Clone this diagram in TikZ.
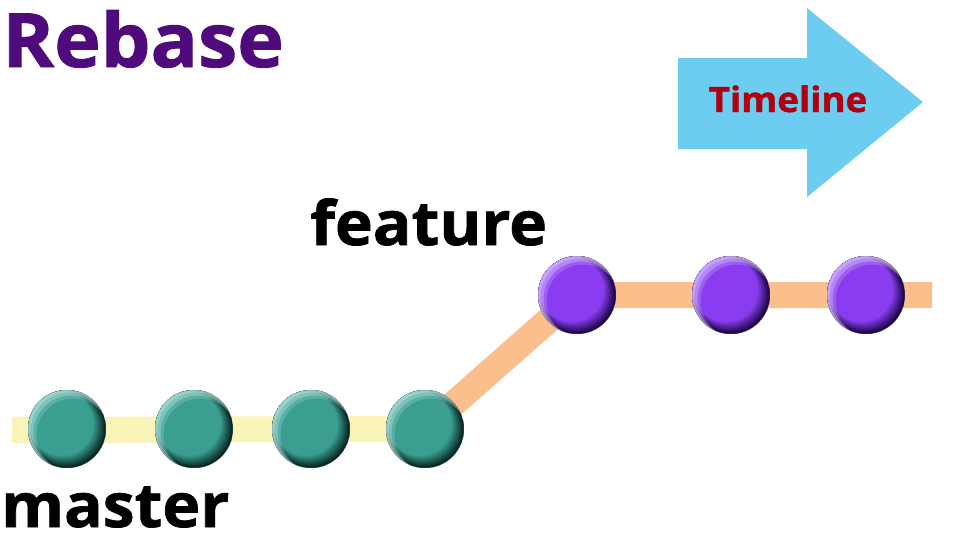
\documentclass[tikz,border=0pt]{standalone}
\usepackage{fontspec}
\setmainfont{Open Sans}
\newfontfamily\heavy{Open Sans}[FakeStretch=1.05, FakeBold=1.2]
\usetikzlibrary{backgrounds}
\definecolor{titlepurple}{HTML}{4F0B7B}
\definecolor{arrowblue}{HTML}{6CCDF0}
\definecolor{timered}{HTML}{B0000F}
\definecolor{masterline}{HTML}{FBF4B8}
\definecolor{featureline}{HTML}{FBBF8E}
\definecolor{tealm}{HTML}{3A9E91}
\definecolor{teald}{HTML}{06211E}
\definecolor{teall}{HTML}{B5E3DB}
\definecolor{purm}{HTML}{8A3DF0}
\definecolor{purd}{HTML}{16043F}
\definecolor{purl}{HTML}{D9C2FA}
\tikzset{
  commit/.style n args={3}{circle, minimum size=78pt, inner sep=0pt,
    path picture={
      \begin{scope}[shift={(path picture bounding box.center)}]
        \fill[#2] (0pt,0pt) circle (40pt);
        \foreach \i in {0,...,14}{
          \pgfmathsetmacro\pc{100*\i/14}
          \fill[#1!\pc!#2] (-\i*0.36pt,\i*0.36pt) circle ({39pt-\i*0.5pt});
        }
        \fill[#3, opacity=0.5, even odd rule] (0pt,0pt) circle (39pt) (2pt,-2pt) circle (38.5pt);
        \fill[#3, opacity=0.4, even odd rule] (0pt,0pt) circle (39pt) (4pt,-4pt) circle (37.5pt);
        \fill[#3, opacity=0.25, even odd rule] (0pt,0pt) circle (39pt) (6pt,-6pt) circle (36.5pt);
      \end{scope}
    }},
  gcommit/.style={commit={tealm}{teald}{teall}},
  pcommit/.style={commit={purm}{purd}{purl}},
  label text/.style={inner sep=0pt, anchor=base west, font=\heavy\bfseries\fontsize{61}{66}\selectfont},
  branchline/.style={line width=26pt, line cap=butt, line join=miter}
}
\begin{document}
\begin{tikzpicture}[x=1pt,y=-1pt]
  \useasboundingbox (0,0) rectangle (953,541);
  % title
  \node[inner sep=0pt, anchor=base west, text=titlepurple,
        font=\heavy\bfseries\fontsize{75}{80}\selectfont] (title) at (2,67) {Rebase};
  % timeline arrow
  \fill[arrowblue] (678,58) -- (807,58) -- (807,8) -- (923,102) -- (807,197) -- (807,149) -- (678,149) -- cycle;
  \node[inner sep=0pt, anchor=base, text=timered,
        font=\heavy\bfseries\fontsize{35}{40}\selectfont] (timeline) at (788,112) {Timeline};
  % commits
  \node[gcommit] (m1) at (67,429) {};
  \node[gcommit] (m2) at (194,429) {};
  \node[gcommit] (m3) at (311,429) {};
  \node[gcommit] (m4) at (425,429) {};
  \node[pcommit] (f1) at (577,295) {};
  \node[pcommit] (f2) at (731,295) {};
  \node[pcommit] (f3) at (866,295) {};
  \coordinate (mstart) at (12,430);
  \coordinate (fend) at (932,295);
  % labels
  \node[label text] (feature) at (310,245) {feature};
  \node[label text] (master) at (1,527) {master};
  \begin{pgfonlayer}{background}
    \fill[white] (0,0) rectangle (953,541);
    \draw[branchline, masterline] (mstart) -- (m4.center);
    \draw[branchline, featureline] (m4.center) -- (f1.center) -- (fend);
  \end{pgfonlayer}
\end{tikzpicture}
\end{document}
